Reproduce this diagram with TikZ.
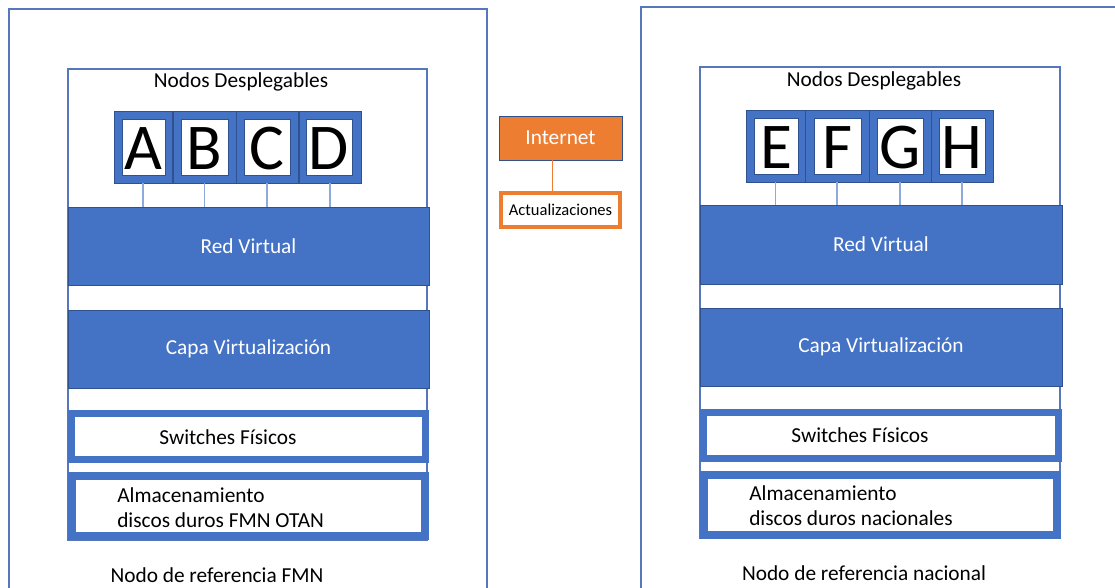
\documentclass[tikz,border=0pt]{standalone}
\usepackage{fontspec}
\setmainfont{Carlito}
\usetikzlibrary{fit}
\definecolor{bfill}{HTML}{4472C4}
\definecolor{bdark}{HTML}{2F528F}
\definecolor{bframe}{HTML}{5677BB}
\definecolor{bline}{HTML}{8EA9DB}
\definecolor{orng}{HTML}{ED7D31}
\tikzset{
  x=0.75pt, y=-0.75pt,
  boxat/.style={fit={#1}, inner sep=0pt, outer sep=0pt},
  frame/.style={draw=bframe, line width=0.9pt},
  layer/.style={fill=bfill, draw=bdark, line width=0.6pt},
  white text/.style={label={[text=white, font=\fontsize{16}{19}\selectfont]center:#1}},
  hwbox/.style={fill=white, draw=bfill},
  letterbox/.style={fill=bfill, draw=bdark, line width=0.6pt},
  letterin/.style={fill=white, draw=bdark, line width=0.3pt,
    label={[font=\fontsize{49}{49}\selectfont, inner sep=0pt, yshift=-1pt]center:#1}},
  lbl/.style={font=\fontsize{16}{18.75}\selectfont, inner sep=0pt},
  link/.style={draw=bline, line width=0.9pt},
}
\begin{document}
\begin{tikzpicture}
\useasboundingbox (0,0) rectangle (1115,588);

% ---------- left site ----------
\draw[frame] (9,589) -- (9,9) -- (487,9) -- (487,589);
\node[boxat={(68,69)(427,540)}, frame] (inL) {};
\node[lbl] (ndL) at (241,82) {Nodos Desplegables};

\node[boxat={(114,111)(172,183)}, letterbox] (A) {};
\node[boxat={(173,111)(236,183)}, letterbox] (B) {};
\node[boxat={(236,111)(298,183)}, letterbox] (C) {};
\node[boxat={(299,111)(361,183)}, letterbox] (D) {};
\node[boxat={(122,119)(165,175)}, letterin=A] (Ai) {};
\node[boxat={(181,119)(228,175)}, letterin=B] (Bi) {};
\node[boxat={(244,119)(290,175)}, letterin=C] (Ci) {};
\node[boxat={(306,119)(352,175)}, letterin=D] (Di) {};

\node[boxat={(68,207)(429,285)}, layer, white text=Red Virtual] (rvL) {};
\node[boxat={(68,310)(429,388)}, layer, white text=Capa Virtualización] (cvL) {};
\node[boxat={(71.3,413.3)(425.7,459.7)}, hwbox, line width=4.9pt] (swL) {};
\node[lbl] (swLt) at (228,437) {Switches Físicos};
\node[boxat={(72,476)(425,536)}, hwbox, line width=6pt] (stL) {};
\node[lbl, anchor=west, align=left] (stLt) at (117,507.5) {Almacenamiento\\discos duros FMN OTAN};
\node[lbl] (refL) at (217,575) {Nodo de referencia FMN};

\foreach \n in {A,B,C,D}
  \draw[link] (\n.south) -- (\n.south |- rvL.north);

% ---------- internet ----------
\node[boxat={(499,116)(622,160)}, fill=orng, draw=bdark, line width=0.6pt,
      white text=Internet] (inet) {};
\node[boxat={(501,193)(620,227)}, fill=white, draw=orng, line width=3pt,
      label={[font=\fontsize{12.4}{14}\selectfont]center:Actualizaciones}] (upd) {};
\draw[draw=orng, line width=0.9pt] ([xshift=-6pt]inet.south) -- ([xshift=-6pt]inet.south |- upd.north);

% ---------- right site ----------
\draw[frame] (641,589) -- (641,7) -- (1116,7);
\node[boxat={(700,67)(1060,538)}, frame] (inR) {};
\node[lbl] (ndR) at (874,81) {Nodos Desplegables};

\node[boxat={(746,110)(805,182)}, letterbox] (E) {};
\node[boxat={(805,110)(869,182)}, letterbox] (F) {};
\node[boxat={(869,110)(931,182)}, letterbox] (G) {};
\node[boxat={(931,110)(993,182)}, letterbox] (H) {};
\node[boxat={(754,118)(798,174)}, letterin=E] (Ei) {};
\node[boxat={(814,118)(861,174)}, letterin=F] (Fi) {};
\node[boxat={(877,118)(923,174)}, letterin=G] (Gi) {};
\node[boxat={(939,118)(985,174)}, letterin=H] (Hi) {};

\node[boxat={(700,205)(1062,284)}, layer, white text=Red Virtual] (rvR) {};
\node[boxat={(700,308)(1062,386)}, layer, white text=Capa Virtualización] (cvR) {};
\node[boxat={(703.3,412.3)(1058.7,458.7)}, hwbox, line width=4.9pt] (swR) {};
\node[lbl] (swRt) at (860,435) {Switches Físicos};
\node[boxat={(704,475)(1057,535)}, hwbox, line width=6pt] (stR) {};
\node[lbl, anchor=west, align=left] (stRt) at (749,505.5) {Almacenamiento\\discos duros nacionales};
\node[lbl] (refR) at (864,573) {Nodo de referencia nacional};

\foreach \n in {E,F,G,H}
  \draw[link] (\n.south) -- (\n.south |- rvR.north);
\end{tikzpicture}
\end{document}
